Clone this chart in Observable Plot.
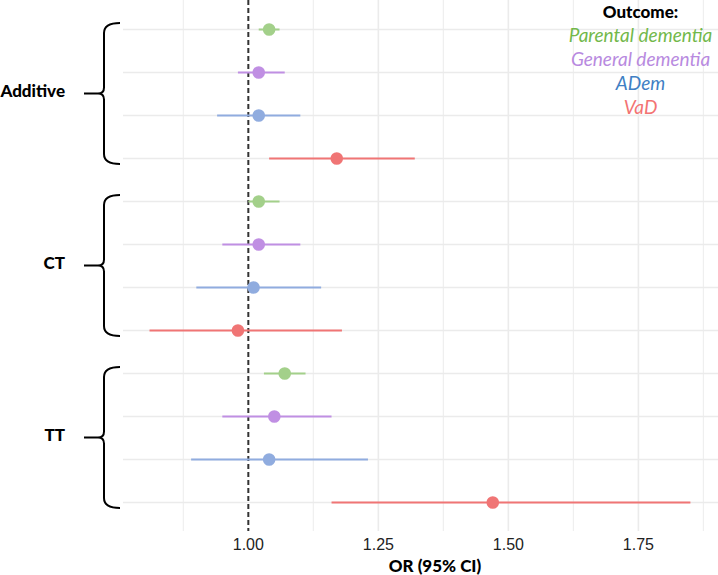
<!DOCTYPE html>
<html><head><meta charset="utf-8">
<script src="https://cdn.jsdelivr.net/npm/d3@7"></script>
<script src="https://cdn.jsdelivr.net/npm/@observablehq/plot@0.6"></script>
<style>body{margin:0;background:#fff}</style>
</head><body><div id="chart"></div>
<script>
const groups = ["Additive", "CT", "TT"];
const outcomes = ["Parental dementia", "General dementia", "ADem", "VaD"];
const orValues = [1.04, 1.02, 1.02, 1.17, 1.02, 1.02, 1.01, 0.98, 1.07, 1.05, 1.04, 1.47];
const lowerCI  = [1.02, 0.98, 0.94, 1.04, 1.00, 0.95, 0.90, 0.81, 1.03, 0.95, 0.89, 1.16];
const upperCI  = [1.06, 1.07, 1.10, 1.32, 1.06, 1.10, 1.14, 1.18, 1.11, 1.16, 1.23, 1.85];
const pointColors  = ["#a3d08a", "#c08fe3", "#90acdf", "#f07575"];
const legendColors = ["#72b84a", "#b88ae0", "#3f7fc4", "#f37373"];
const legendTitle = "Outcome:";
const xTitle = "OR (95% CI)";
const tickValues = [1.00, 1.25, 1.50, 1.75];
const minorTicks = [0.875, 1.125, 1.375, 1.625, 1.875];
const xDomain = [0.76, 1.904];

const rows = [];
groups.forEach((g, gi) => outcomes.forEach((o, oi) => {
  const i = gi * outcomes.length + oi;
  rows.push({key: g + "|" + o, group: g, outcome: o, or: orValues[i], lo: lowerCI[i], hi: upperCI[i], color: pointColors[oi]});
}));

const marginLeft = 123;

function braces(index, scales, values, dimensions) {
  const g = d3.create("svg:g");
  const xR = marginLeft - 3, xV = marginLeft - 19, xT = marginLeft - 39;
  groups.forEach(grp => {
    const ys = rows.filter(r => r.group === grp).map(r => scales.y(r.key));
    const top = d3.min(ys) - 6, bot = d3.max(ys) + 6, mid = (top + bot) / 2;
    const p = `M${xR},${top} Q${xV},${top} ${xV},${top + 10} L${xV},${mid - 6} Q${xV},${mid} ${xV - 6},${mid} L${xT},${mid}` +
              ` M${xV - 6},${mid} Q${xV},${mid} ${xV},${mid + 6} L${xV},${bot - 10} Q${xV},${bot} ${xR},${bot}`;
    g.append("path").attr("d", p).attr("fill", "none").attr("stroke", "#000").attr("stroke-width", 2);
    g.append("text").attr("x", xT - 19).attr("y", mid - 2).attr("dy", "0.35em")
      .attr("text-anchor", "end").attr("font-family", "Lato, sans-serif")
      .attr("font-weight", 900).attr("font-size", 17).attr("fill", "#000").text(grp);
  });
  return g.node();
}

const legendMarks = [
  Plot.text([legendTitle], {frameAnchor: "top-right", dx: -78, dy: 12, lineAnchor: "middle", textAnchor: "middle",
    fontFamily: "Lato, sans-serif", fontWeight: 900, fontSize: 17, fill: "#000"})
];
outcomes.forEach((o, i) => {
  legendMarks.push(Plot.text([o], {frameAnchor: "top-right", dx: -78, dy: 35 + i * 24.3, lineAnchor: "middle", textAnchor: "middle",
    fontFamily: "Lato, sans-serif", fontStyle: "italic", fontSize: 19, fill: legendColors[i]}));
});

const chart = Plot.plot({
  width: 718,
  height: 575,
  marginLeft,
  marginRight: 0,
  marginTop: 0,
  marginBottom: 44,
  style: {background: "#fff", overflow: "visible"},
  x: {domain: xDomain},
  y: {type: "point", domain: rows.map(r => r.key), padding: 0.6, axis: null},
  marks: [
    Plot.ruleX(minorTicks, {stroke: "#efefef", strokeWidth: 1.2}),
    Plot.ruleX(tickValues.filter(t => t !== 1), {stroke: "#ebebeb", strokeWidth: 1.6}),
    Plot.ruleY(rows, {y: "key", stroke: "#ebebeb", strokeWidth: 1.6}),
    Plot.ruleX([1], {stroke: "#333", strokeWidth: 2, strokeDasharray: "5,3"}),
    Plot.link(rows, {x1: "lo", x2: "hi", y1: "key", y2: "key", stroke: "color", strokeWidth: 2}),
    Plot.dot(rows, {x: "or", y: "key", r: 6.3, fill: "color", stroke: null}),
    Plot.axisX(tickValues, {tickSize: 0, tickPadding: 7, tickFormat: d3.format(".2f"), fontSize: 16,
      fontFamily: "'Liberation Sans', Arial, sans-serif", fill: "#222", label: null}),
    Plot.text([xTitle], {frameAnchor: "bottom", dx: 14, dy: 35, lineAnchor: "middle",
      fontFamily: "Lato, sans-serif", fontWeight: 900, fontSize: 17, fill: "#000"}),
    ...legendMarks,
    braces
  ]
});
document.getElementById("chart").append(chart);
</script>
</body></html>
